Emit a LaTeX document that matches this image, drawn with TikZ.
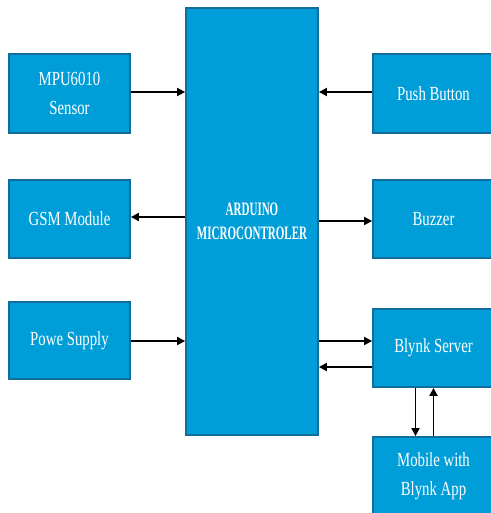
\documentclass[tikz,border=0pt]{standalone}
\usepackage{fontspec}
\setmainfont{Liberation Serif}
\newfontfamily\boxfont[FakeStretch=0.74]{Liberation Serif}
\newfontfamily\ardfont[FakeStretch=0.58]{Liberation Serif}
\usetikzlibrary{arrows.meta}
\definecolor{boxfill}{RGB}{0,158,216}
\definecolor{boxline}{RGB}{20,108,155}
\tikzset{
  blk/.style={draw=boxline, line width=1.8pt, fill=boxfill, text=white, align=center,
    inner sep=0pt, font=\boxfont\fontsize{20}{29}\selectfont},
  conn/.style={line width=1.8pt, -{Triangle[length=8pt,width=8pt]}}
}
\begin{document}
\begin{tikzpicture}[x=1pt,y=-1pt]
\useasboundingbox (0,0) rectangle (490,513);
\node[blk, minimum width=121pt, minimum height=79pt] (mpu) at (69.5,93.5) {MPU6010\\Sensor};
\node[blk, minimum width=121pt, minimum height=78pt] (gsm) at (69.5,219) {GSM Module};
\node[blk, minimum width=121pt, minimum height=77pt] (pow) at (69.5,340.5) {Powe Supply};
\node[blk, minimum width=132pt, minimum height=427pt, font=\ardfont\bfseries\fontsize{19}{24}\selectfont] (ard) at (252,221.5) {ARDUINO\\MICROCONTROLER};
\node[blk, minimum width=121pt, minimum height=79pt] (push) at (433.5,93.5) {Push Button};
\node[blk, minimum width=121pt, minimum height=78pt] (buz) at (433.5,219) {Buzzer};
\node[blk, minimum width=121pt, minimum height=78pt] (bly) at (433.5,348) {Blynk Server};
\node[blk, minimum width=121pt, minimum height=78pt] (mob) at (433.5,476) {Mobile with\\Blynk App};
\draw[conn] ([yshift=1.5pt]mpu.east) -- ([yshift=1.5pt]mpu.east -| ard.west);
\draw[conn] ([yshift=2pt]gsm.east -| ard.west) -- ([yshift=2pt]gsm.east);
\draw[conn] ([yshift=-0.5pt]pow.east) -- ([yshift=-0.5pt]pow.east -| ard.west);
\draw[conn] ([yshift=1.5pt]push.west) -- ([yshift=1.5pt]push.west -| ard.east);
\draw[conn] ([yshift=-2pt]buz.west -| ard.east) -- ([yshift=-2pt]buz.west);
\draw[conn] ([yshift=7pt]bly.west -| ard.east) -- ([yshift=7pt]bly.west);
\draw[conn] ([yshift=-19pt]bly.west) -- ([yshift=-19pt]bly.west -| ard.east);
\draw[conn] ([xshift=-18pt]bly.south) -- ([xshift=-18pt]mob.north);
\draw[conn] (mob.north) -- (bly.south);
\end{tikzpicture}
\end{document}
